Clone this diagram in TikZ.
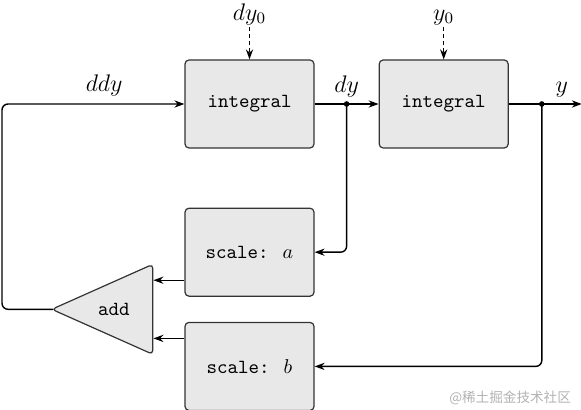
\documentclass[tikz,border=0pt]{standalone}
\usepackage{fontspec}
\newfontfamily\cjkfont{Noto Sans CJK SC}
\usetikzlibrary{positioning,arrows.meta,calc,shapes.geometric}

\begin{document}
\begin{tikzpicture}[
  node distance=29.5pt and 32pt,
  blokk/.style={draw=black!80, fill=black!9, rounded corners=2pt, line width=0.6pt, minimum width=64.5pt, minimum height=44pt, font=\ttfamily},
  summer/.style={draw=black!80, fill=black!9, isosceles triangle, isosceles triangle stretches, shape border rotate=180, rounded corners=2pt, line width=0.6pt, minimum width=45pt, minimum height=50.5pt, inner sep=0pt, font=\ttfamily},
  pil/.style={-{Stealth[length=5pt, width=3.6pt]}, line width=0.7pt, rounded corners=3pt},
  merk/.style={font=\large},
  prikk/.style={circle, fill, inner sep=0pt, minimum size=2.8pt}
]
\useasboundingbox (0,0) rectangle (290.5pt,-205pt);
\node[blokk] (int1) at (124.75pt,-52pt) {integral};
\node[blokk, right=of int1] (int2) {integral};
\node[blokk, below=of int1] (skalA) {scale: $a$};
\node[blokk, below=12.5pt of skalA] (skalB) {scale: $b$};
\node[summer, left=15.5pt of $(skalA.west)!0.5!(skalB.west)$] (add) {add\kern5pt};
% startverdier
\node[merk, above=16pt of int1, inner sep=1pt] (dy0) {$dy_0$};
\node[merk, above=16pt of int2, inner sep=1pt] (y0) {$y_0$};
\draw[pil, dash pattern=on 2pt off 1.5pt] (dy0) -- (int1);
\draw[pil, dash pattern=on 2pt off 1.5pt] (y0) -- (int2);
% forgreiningar
\coordinate (dyprikk) at ($(int1.east)!0.5!(int2.west)$);
\coordinate (yprikk) at ([xshift=16.5pt]int2.east);
\coordinate (yut) at ([xshift=36.5pt]int2.east);
\coordinate (venstre) at (1pt,0);
\draw[pil] (int1) -- (int2);
\draw[pil] (int2.east) -- (yut);
\node[merk, above] (dylbl) at (dyprikk) {$dy$};
\node[merk, above] (ylbl) at ($(yprikk)!0.5!(yut)$) {$y$};
\draw[pil] (dyprikk) |- (skalA.east);
\draw[pil] (yprikk) |- (skalB.east);
\draw[pil] ([yshift=-14pt]skalA.west) -- ([yshift=-14pt]skalA.west -| add.east);
\draw[pil] ([yshift=14pt]skalB.west) -- ([yshift=14pt]skalB.west -| add.east);
\draw[pil] ([xshift=1.5pt]add.apex) -- (add.apex -| venstre) |- node[merk, above, pos=0.78] (ddylbl) {$ddy$} (int1.west);
\node[prikk] (p1) at (dyprikk) {};
\node[prikk] (p2) at (yprikk) {};
\node[anchor=east, text=black!30, font=\cjkfont\fontsize{6.8pt}{8pt}\selectfont] (merke) at (289pt,-199pt) {@稀土掘金技术社区};
\end{tikzpicture}
\end{document}
